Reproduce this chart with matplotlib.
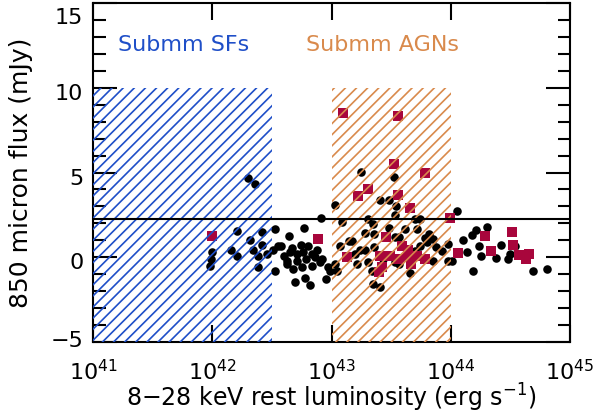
import numpy as np
import matplotlib
matplotlib.use("Agg")
import matplotlib.pyplot as plt
import matplotlib.transforms as mtransforms
from matplotlib.ticker import MultipleLocator, NullLocator, FixedLocator

plt.rcParams['font.family'] = ['DejaVu Sans']
plt.rcParams['hatch.linewidth'] = 1.2

# log10 of 8-28 keV rest luminosity, and 850 micron flux (mJy)
dots_logL = [42.00, 41.99, 41.98, 42.16, 42.21, 42.21, 42.30, 42.36, 42.32, 42.34,
             42.38, 42.42, 42.42, 42.46, 42.51, 42.53, 42.53, 42.38, 42.55,
             42.91, 42.77, 42.64, 42.58, 42.74, 42.80, 42.65, 42.71, 42.76, 42.84,
             42.63, 42.71, 42.79, 42.86, 42.92, 42.63, 42.75, 42.84, 42.97, 42.95,
             42.78, 42.69, 42.82, 43.03, 43.09, 43.17, 43.07, 43.03, 42.99, 43.05,
             42.60, 42.67, 42.88, 42.90, 42.68,
             43.25, 43.52, 43.41, 43.48, 43.54, 43.53, 43.31, 43.35, 43.28, 43.36,
             43.48, 43.62, 43.70, 43.74, 43.72, 43.57, 43.53, 43.15, 43.20, 43.28,
             43.36, 43.21, 43.31, 43.43, 43.53, 43.57, 43.63, 43.70, 43.74, 43.78,
             43.66, 43.35, 43.41, 43.34, 43.24,
             44.05, 43.82, 43.85, 43.80, 43.88, 43.93, 43.98, 44.01, 43.85, 44.10,
             44.18, 44.30, 44.21, 44.24, 44.25, 44.14, 44.38, 44.19, 43.98, 44.42,
             44.48, 44.50, 44.54, 44.69, 44.81]
dots_flux = [0.30, -0.10, -0.50, 0.40, 1.55, 0.05, 4.65, 4.30, 1.00, 0.40,
             0.10, 1.50, 0.75, 0.20, 0.45, 1.65, -0.80, -0.55, 0.65,
             2.30, 1.70, 1.25, 0.65, 0.75, 0.65, 0.30, 0.20, 0.30, 0.20,
             -0.25, -0.25, -0.10, 0.00, -0.10, -0.40, -0.60, -0.50, -0.60, -1.30,
             -1.25, -1.45, -1.65, 3.10, 2.10, 0.95, 0.65, -0.40, -0.80, -0.80,
             0.10, 0.55, 0.45, -0.30, -0.70,
             5.05, 4.75, 3.40, 3.40, 3.00, 2.50, 2.25, 1.95, 1.45, 1.35,
             1.75, 1.65, 2.25, 2.25, 1.65, 1.20, 1.20, 0.95, 0.20, 0.45,
             0.60, -0.40, -0.30, -0.10, -0.30, -0.40, 0.05, 0.35, 0.65, 1.15,
             -0.90, -1.60, -1.75, -0.80, 0.45,
             2.75, 1.35, 1.05, 0.90, 0.60, 0.35, 0.80, -0.25, -0.25, 1.00,
             1.30, 1.80, 1.60, 0.65, 0.10, 0.30, -0.05, -0.80, -0.20, 0.75,
             -0.10, 0.20, 0.65, -0.80, -0.70]

red_logL = [42.00, 42.89, 43.13,
            43.10, 43.56, 43.52, 43.78, 43.31, 43.22, 43.56, 43.66, 43.46, 43.59,
            43.64, 43.41, 43.49, 43.64, 43.72, 43.78, 43.42, 43.56, 43.67, 43.40,
            43.99, 44.29, 44.06, 44.34, 44.51, 44.52, 44.57, 44.66, 44.63]
red_flux = [1.25, 1.10, 0.00,
            8.50, 8.35, 5.50, 5.00, 4.05, 3.60, 3.65, 2.90, 1.20, 0.65,
            0.45, 0.05, 0.05, 0.00, 0.05, -0.10, -0.60, -0.10, -0.40, -0.85,
            2.30, 1.25, 0.25, 0.35, 1.50, 0.75, 0.15, 0.20, -0.10]

flux_limit = 2.25
sf_range = (1e41, 10**42.5)
agn_range = (1e43, 1e44)
box_flux = (-5, 10)

BLUE = '#1f4fc8'
ORANGE = '#d98a4c'
RED = '#a8063c'

fig = plt.figure(figsize=(5.94, 4.18), dpi=100)
ax = fig.add_axes([0.1566, 0.1818, 0.803, 0.811])

ax.scatter(10**np.array(dots_logL), dots_flux, s=38, c='black', linewidths=0, zorder=3)
ax.scatter(10**np.array(red_logL), red_flux, s=60, c=RED, marker='s', linewidths=0, zorder=4)

ax.fill_between(sf_range, box_flux[0], box_flux[1], facecolor='none', edgecolor=BLUE,
                hatch='///', linewidth=0, zorder=5)
ax.fill_between(agn_range, box_flux[0], box_flux[1], facecolor='none', edgecolor=ORANGE,
                hatch='///', linewidth=0, zorder=5)

ax.axhline(flux_limit, color='black', lw=1.5, zorder=6)

ax.text(10**41.21, 12.5, 'Submm SFs', color=BLUE, fontsize=16, va='center')
ax.text(10**42.79, 12.5, 'Submm AGNs', color=ORANGE, fontsize=16, va='center')

ax.set_xscale('log')
ax.set_xlim(1e41, 1e45)
ax.set_ylim(-5, 15)
ax.xaxis.set_major_locator(FixedLocator([1e41, 1e42, 1e43, 1e44, 1e45]))
ax.xaxis.set_minor_locator(NullLocator())
ax.yaxis.set_major_locator(MultipleLocator(5))
ax.yaxis.set_minor_locator(MultipleLocator(1))

ax.tick_params(which='both', direction='in', top=True, right=True, width=1.5,
               labelsize=16, colors='black')
ax.tick_params(axis='x', which='major', length=12, pad=12)
ax.tick_params(axis='y', which='major', length=17, pad=7)
ax.tick_params(axis='y', which='minor', length=9)
for sp in ax.spines.values():
    sp.set_linewidth(1.5)

ax.set_xlabel('8\u221228 keV rest luminosity (erg s$^{-1}$)', fontsize=17)
ax.set_ylabel('850 micron flux (mJy)', fontsize=18)
ax.yaxis.set_label_coords(-0.126, 0.5)
ax.xaxis.set_label_coords(0.5, -0.118)

# nudge y tick labels down a bit, the top one more so it stays inside the figure
fig.canvas.draw()
for lab in ax.get_yticklabels():
    y = lab.get_position()[1]
    shift = -9 if y >= 15 else (2 if y <= -5 else -3)
    lab.set_transform(lab.get_transform() +
                      mtransforms.ScaledTranslation(0, shift / 72, fig.dpi_scale_trans))

fig.savefig('out.png', dpi=100)
